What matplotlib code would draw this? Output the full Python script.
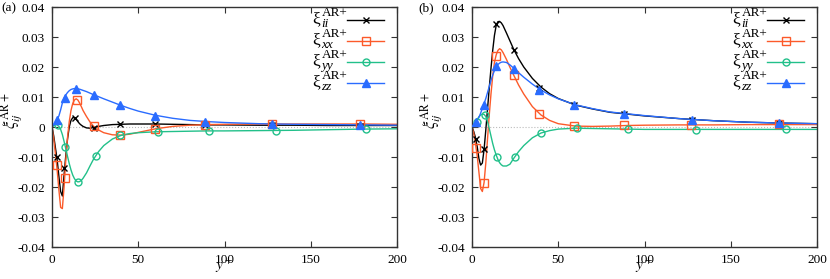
import matplotlib
matplotlib.use("Agg")
import matplotlib.pyplot as plt

plt.rcParams['font.family'] = ['Liberation Serif', 'DejaVu Serif']
plt.rcParams['mathtext.fontset'] = 'stix'
plt.rcParams['font.size'] = 9.5

# y+ positions where the smooth curves were read
yp = [0, 1, 2, 3, 4, 5, 6, 7, 8, 9, 10, 11, 12, 13, 14, 15, 16, 17, 18, 20,
      22, 24, 27, 30, 35, 40, 45, 50, 60, 70, 80, 90, 100, 120, 140, 160, 180, 200]

# panel (a)
a_ii = [0, -0.003, -0.007, -0.011, -0.0165, -0.0215, -0.0230, -0.0160, -0.0095, -0.0040, 0.0000,
        0.0022, 0.0031, 0.0031, 0.0026, 0.0018, 0.0011, 0.0006, 0.0002, -0.0003,
        -0.0004, -0.0002, 0.0002, 0.0005, 0.0008, 0.0009, 0.0010, 0.0010, 0.0010, 0.0009,
        0.0008, 0.0007, 0.0007, 0.0006, 0.0006, 0.0005, 0.0005, 0.0005]
a_xx = [0, -0.004, -0.009, -0.0145, -0.021, -0.0268, -0.0272, -0.0200, -0.0110, -0.0035, 0.0018,
        0.0055, 0.0078, 0.0090, 0.0094, 0.0090, 0.0080, 0.0068, 0.0055, 0.0035,
        0.0017, 0.0003, -0.0010, -0.0019, -0.0026, -0.0027, -0.0024, -0.0018, -0.0006, 0.0002,
        0.0006, 0.0008, 0.0009, 0.0010, 0.0010, 0.0010, 0.0010, 0.0009]
a_yy = [0, 0.0005, 0.0008, 0.0007, 0.0002, -0.0008, -0.0025, -0.0048, -0.0072, -0.0098, -0.0122,
        -0.0143, -0.0160, -0.0172, -0.0180, -0.0183, -0.0182, -0.0178, -0.0171, -0.0153,
        -0.0130, -0.0108, -0.0082, -0.0062, -0.0040, -0.0028, -0.0022, -0.0019, -0.0016, -0.0015,
        -0.0014, -0.0013, -0.0013, -0.0012, -0.0011, -0.0009, -0.0007, -0.0006]
a_zz = [0, 0.0007, 0.0015, 0.0024, 0.0037, 0.0057, 0.0080, 0.0096, 0.0107, 0.0115, 0.0121,
        0.0125, 0.0127, 0.0128, 0.0128, 0.0127, 0.0126, 0.0124, 0.0122, 0.0118,
        0.0113, 0.0108, 0.0101, 0.0094, 0.0083, 0.0072, 0.0062, 0.0053, 0.0039, 0.0029,
        0.0022, 0.0018, 0.0015, 0.0011, 0.0009, 0.0008, 0.0007, 0.0006]

# panel (b)
b_ii = [0, -0.0015, -0.0035, -0.0065, -0.0105, -0.0127, -0.0120, -0.0075, -0.0010, 0.0060, 0.0130,
        0.0195, 0.0255, 0.0305, 0.0338, 0.0351, 0.0352, 0.0347, 0.0338, 0.0313,
        0.0287, 0.0261, 0.0228, 0.0200, 0.0162, 0.0133, 0.0111, 0.0095, 0.0073, 0.0060,
        0.0049, 0.0043, 0.0037, 0.0028, 0.0021, 0.0016, 0.0013, 0.0011]
b_xx = [0, -0.002, -0.0055, -0.0095, -0.0150, -0.0205, -0.0215, -0.0185, -0.0120, -0.0040, 0.0040,
        0.0110, 0.0170, 0.0215, 0.0240, 0.0255, 0.0261, 0.0257, 0.0248, 0.0225,
        0.0199, 0.0175, 0.0140, 0.0110, 0.0068, 0.0040, 0.0022, 0.0011, 0.0003, 0.0002,
        0.0003, 0.0005, 0.0006, 0.0007, 0.0007, 0.0008, 0.0008, 0.0008]
b_yy = [0, 0.0008, 0.0016, 0.0025, 0.0034, 0.0040, 0.0043, 0.0042, 0.0035, 0.0018, -0.0005,
        -0.0030, -0.0055, -0.0076, -0.0093, -0.0108, -0.0119, -0.0126, -0.0130, -0.0130,
        -0.0124, -0.0106, -0.0082, -0.0062, -0.0036, -0.0020, -0.0012, -0.0007, -0.0004, -0.0005,
        -0.0006, -0.0007, -0.0008, -0.0008, -0.0008, -0.0008, -0.0008, -0.0008]
b_zz = [0, 0.0006, 0.0013, 0.0021, 0.0032, 0.0046, 0.0062, 0.0078, 0.0095, 0.0115, 0.0135,
        0.0155, 0.0173, 0.0188, 0.0200, 0.0208, 0.0213, 0.0216, 0.0217, 0.0215,
        0.0207, 0.0197, 0.0181, 0.0166, 0.0143, 0.0123, 0.0107, 0.0094, 0.0074, 0.0061,
        0.0050, 0.0044, 0.0038, 0.0028, 0.0021, 0.0016, 0.0013, 0.0011]

# marker points
a_ii_mx = [2.8, 7.2, 13.3, 24.2, 39.5, 59.7, 88.5, 127.4, 178.5]
a_ii_my = [-0.0101, -0.0138, 0.0030, -0.0002, 0.0009, 0.0010, 0.0007, 0.0007, 0.0005]
a_xx_mx = [2.8, 7.3, 14.3, 24.5, 39.5, 59.7, 88.7, 127.4, 178.5]
a_xx_my = [-0.0126, -0.0169, 0.0090, 0.0002, -0.0026, -0.0005, 0.0007, 0.0011, 0.0010]
a_yy_mx = [3.2, 7.8, 15.3, 25.4, 39.7, 61.3, 91.0, 130.0, 182.0]
a_yy_my = [0.0008, -0.0068, -0.0182, -0.0097, -0.0028, -0.0016, -0.0014, -0.0012, -0.0007]
a_zz_mx = [3.0, 7.3, 13.9, 24.6, 39.3, 59.7, 88.7, 127.4, 178.5]
a_zz_my = [0.0022, 0.0098, 0.0127, 0.0107, 0.0073, 0.0038, 0.0018, 0.0011, 0.0007]

b_ii_mx = [2.5, 7.0, 13.9, 24.2, 39.0, 59.3, 88.2, 127.4, 178.2]
b_ii_my = [-0.0041, -0.0072, 0.0342, 0.0258, 0.0131, 0.0072, 0.0045, 0.0022, 0.0013]
b_xx_mx = [2.5, 7.1, 14.0, 24.2, 39.0, 59.3, 88.0, 127.2, 178.2]
b_xx_my = [-0.0071, -0.0186, 0.0237, 0.0173, 0.0042, 0.0002, 0.0006, 0.0006, 0.0009]
b_yy_mx = [2.8, 7.5, 14.7, 24.9, 39.8, 61.0, 90.7, 130.0, 182.0]
b_yy_my = [0.0018, 0.0040, -0.0101, -0.0101, -0.0020, -0.0003, -0.0008, -0.0009, -0.0008]
b_zz_mx = [2.6, 7.1, 14.2, 24.2, 39.0, 59.3, 88.2, 127.4, 178.2]
b_zz_my = [0.0017, 0.0075, 0.0202, 0.0195, 0.0122, 0.0072, 0.0044, 0.0022, 0.0013]

# key labels: xi^{AR+}_{sub}
subs = ['ii', 'xx', 'yy', 'zz']
colors = ['#000000', '#fc5a2a', '#22c08a', '#2a6cff']
marks = ['x', 's', 'o', '^']
mfc = ['#000000', 'none', 'none', '#2a6cff']
msz = [4.5, 5.5, 5, 5.5]

yticks = [-0.04, -0.03, -0.02, -0.01, 0, 0.01, 0.02, 0.03, 0.04]
ytlabels = ['-0.04', '-0.03', '-0.02', '-0.01', '0', '0.01', '0.02', '0.03', '0.04']
xticks = [0, 50, 100, 150, 200]

panels = [
    ('(a)', [a_ii, a_xx, a_yy, a_zz],
     [(a_ii_mx, a_ii_my), (a_xx_mx, a_xx_my), (a_yy_mx, a_yy_my), (a_zz_mx, a_zz_my)]),
    ('(b)', [b_ii, b_xx, b_yy, b_zz],
     [(b_ii_mx, b_ii_my), (b_xx_mx, b_xx_my), (b_yy_mx, b_yy_my), (b_zz_mx, b_zz_my)]),
]

W, H = 830, 279
fig = plt.figure(figsize=(W / 100, H / 100), dpi=100)
lefts = [52, 472]
tagx = [1, 418]

for k, (tag, curves, mpts) in enumerate(panels):
    ax = fig.add_axes([lefts[k] / W, 1 - 247 / H, 345 / W, 240 / H])
    ax.axhline(0, color='#bbbbbb', ls=':', lw=0.8, zorder=0)
    for i in range(4):
        ax.plot(yp, curves[i], color=colors[i], lw=1.0, zorder=2)
        ax.plot(mpts[i][0], mpts[i][1], ls='none', marker=marks[i], color=colors[i],
                mfc=mfc[i], ms=msz[i], mew=1.0, zorder=3)
    ax.set_xlim(0, 200)
    ax.set_ylim(-0.04, 0.04)
    ax.set_xticks(xticks)
    ax.set_yticks(yticks)
    ax.set_yticklabels(ytlabels)
    ax.tick_params(direction='in', top=True, right=True, length=4, width=0.8,
                   pad=5, color='#333333')
    for s in ax.spines.values():
        s.set_linewidth(1.0)
        s.set_color('#333333')
    ax.set_xlabel(r'$y^+$', fontsize=11)
    ax.xaxis.set_label_coords(0.5, -0.042)
    ax.set_ylabel(r'$\xi^{\mathrm{AR+}}_{ij}$', fontsize=12)
    ax.yaxis.set_label_coords(-0.078, 0.57)

    # gnuplot-style key: label on the left, line sample on the right
    dx = lefts[k] - 52
    for i in range(4):
        yl = 20 + 21 * i
        ax.plot([(347 + dx) / W, (384 + dx) / W], [1 - yl / H, 1 - yl / H],
                transform=fig.transFigure, color=colors[i], lw=1.0, clip_on=False)
        ax.plot([(365.5 + dx) / W], [1 - yl / H], transform=fig.transFigure, ls='none',
                marker=marks[i], color=colors[i], mfc=mfc[i], ms=msz[i], mew=1.0,
                clip_on=False)
        fig.text((320 + dx) / W, 1 - (yl + 3) / H, '\u03be', fontsize=12.5,
                 ha='right', va='baseline')
        fig.text((321.5 + dx) / W, 1 - (yl - 4) / H, 'AR+', fontsize=9.5,
                 ha='left', va='baseline')
        fig.text((321.5 + dx) / W, 1 - (yl + 7) / H, subs[i], fontsize=9.5,
                 style='italic', ha='left', va='baseline')

    fig.text(tagx[k] / W, 1 - 8 / H, tag, va='center', ha='left')

fig.savefig('out.png', dpi=100)
